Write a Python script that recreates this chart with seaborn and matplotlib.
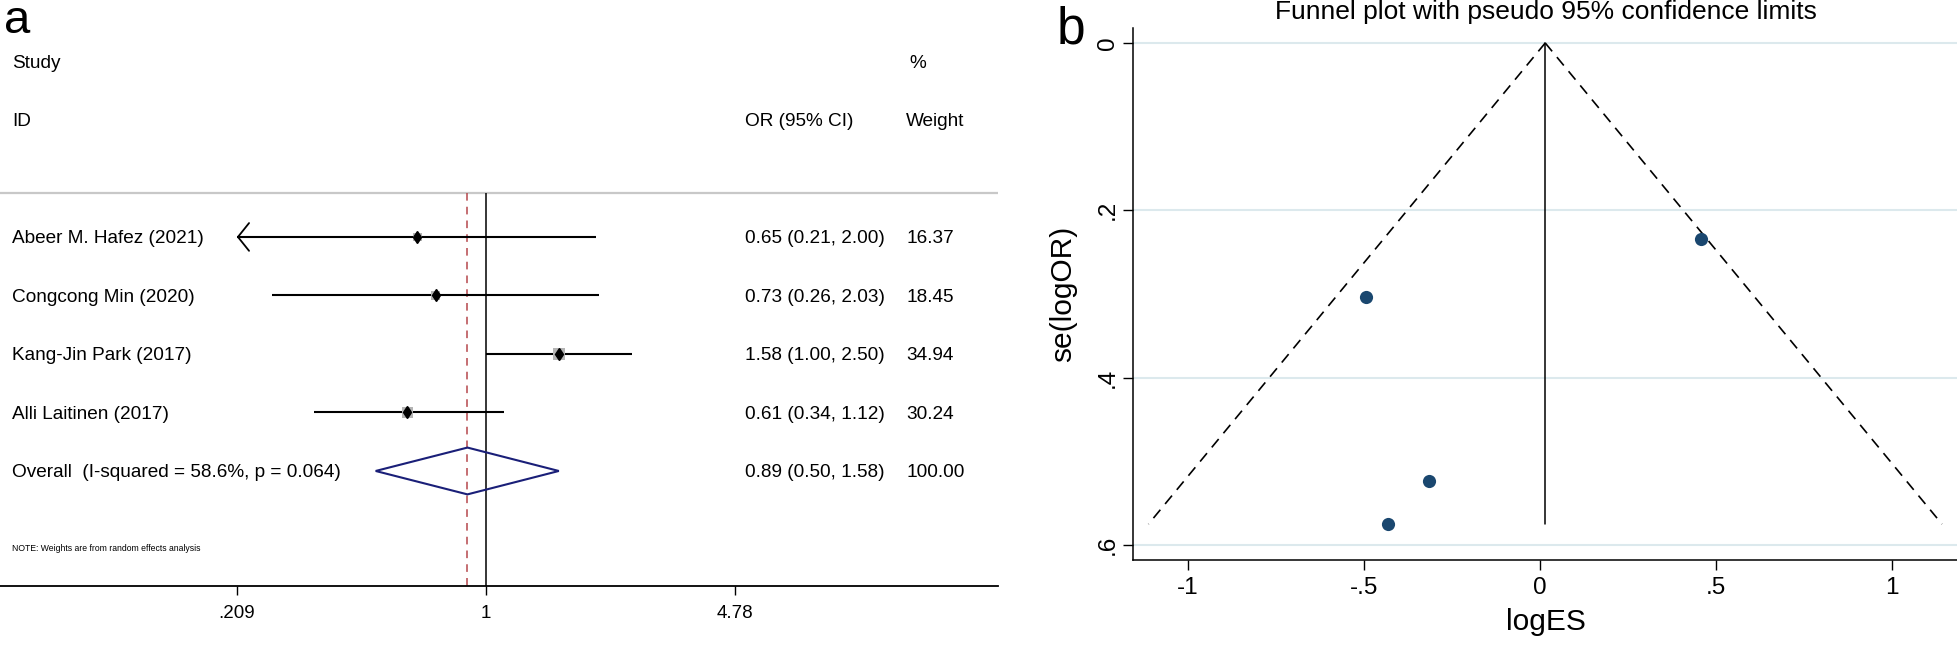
import numpy as np
import pandas as pd
import matplotlib
matplotlib.use("Agg")
import matplotlib.pyplot as plt
import matplotlib.transforms as mtransforms
from matplotlib.patches import ArrowStyle
import seaborn as sns

# ---- forest plot data (panel a) ----
studies = ["Abeer M. Hafez (2021)", "Congcong Min (2020)",
           "Kang-Jin Park (2017)", "Alli Laitinen (2017)"]
or_est = [0.65, 0.73, 1.58, 0.61]
ci_low = [0.21, 0.26, 1.00, 0.34]
ci_high = [2.00, 2.03, 2.50, 1.12]
weights = [16.37, 18.45, 34.94, 30.24]
clipped_left = [True, False, False, False]
overall = (0.89, 0.50, 1.58)
overall_label = "Overall  (I-squared = 58.6%, p = 0.064)"
forest_ticks = [0.209, 1, 4.78]
forest_ticklabels = [".209", "1", "4.78"]

# ---- funnel plot data (panel b) ----
log_es = [-0.431, -0.315, 0.457, -0.494]
se_log_or = [0.575, 0.523, 0.234, 0.304]
pooled_fixed = 0.015
funnel_xticks = [-1, -0.5, 0, 0.5, 1]
funnel_xticklabels = ["-1", "-.5", "0", ".5", "1"]
funnel_yticks = [0, 0.2, 0.4, 0.6]
funnel_yticklabels = ["0", ".2", ".4", ".6"]

sns.set_style("white")
plt.rcParams["font.family"] = ["Liberation Sans", "DejaVu Sans"]
plt.rcParams["text.color"] = "black"
plt.rcParams["axes.labelcolor"] = "black"
plt.rcParams["xtick.color"] = "black"
plt.rcParams["ytick.color"] = "black"

W, H = 1958, 646
fig = plt.figure(figsize=(W / 100, H / 100), dpi=100)

# ================= panel a: forest plot =================
ax = fig.add_axes([0, (H - 586) / H, 998 / W, 586 / H])
ax.set_xscale("log")
ax.set_xlim(np.exp(-486 / 159.2), np.exp(512 / 159.2))
ax.set_ylim(6.966, -3.05)
for s in ["top", "right", "left"]:
    ax.spines[s].set_visible(False)
ax.spines["bottom"].set_linewidth(1.3)
ax.spines["bottom"].set_color("black")
ax.set_xticks(forest_ticks)
ax.set_xticklabels(forest_ticklabels)
ax.minorticks_off()
ax.tick_params(axis="x", length=6.5, width=1, direction="out", pad=7,
               labelsize=13.5, bottom=True)
ax.set_yticks([])

rows = np.arange(1, len(studies) + 1)
trans = mtransforms.blended_transform_factory(ax.transAxes, ax.transData)
txt = dict(fontsize=13.7, va="center_baseline", transform=trans)

# header
ax.text(0.012, -2, "Study", **txt)
ax.text(0.911, -2, "%", **txt)
ax.text(0.012, -1, "ID", **txt)
ax.text(0.7465, -1, "OR (95% CI)", **txt)
ax.text(0.908, -1, "Weight", **txt)
ax.axhline(0.25, color="#c8c8c8", lw=1.6)

# reference lines
ax.vlines(1, 0.25, 6.966, color="black", lw=1.1)
ax.vlines(overall[0], 0.25, 6.966, color="#b5474b", lw=1.1,
          linestyles=(0, (5, 4)))

# CI lines
lo_draw = [forest_ticks[0] if c else l for c, l in zip(clipped_left, ci_low)]
ax.hlines(rows, lo_draw, ci_high, color="black", lw=1.5)
for r, c in zip(rows, clipped_left):
    if c:
        ax.annotate("", xy=(forest_ticks[0], r), xytext=(forest_ticks[0] * 1.4, r),
                    arrowprops=dict(arrowstyle=ArrowStyle("->", head_length=0.8,
                                                          head_width=1.0),
                                    mutation_scale=10, lw=1.3, color="black",
                                    shrinkA=0, shrinkB=0))

df = pd.DataFrame({"OR": or_est, "row": rows, "w": weights})
sns.scatterplot(data=df, x="OR", y="row", size="w",
                sizes=(2.3 * min(weights), 2.3 * max(weights)),
                marker="s", color="#b4b4b4", linewidth=0, legend=False, ax=ax, zorder=3)
ax.plot(or_est, rows, linestyle="none", marker="d", ms=6, color="black", zorder=4)
ax.set_xlabel("")
ax.set_ylabel("")

# overall diamond
o, olo, ohi = overall
ax.fill([olo, o, ohi, o, olo], [5, 4.6, 5, 5.4, 5], fill=False,
        edgecolor="#1a1f78", lw=1.5, zorder=4)

for r, name, e, l, h, w in zip(rows, studies, or_est, ci_low, ci_high, weights):
    ax.text(0.012, r, name, **txt)
    ax.text(0.7465, r, f"{e:.2f} ({l:.2f}, {h:.2f})", **txt)
    ax.text(0.908, r, f"{w:.2f}", **txt)
ax.text(0.012, 5, overall_label, **txt)
ax.text(0.7465, 5, f"{o:.2f} ({olo:.2f}, {ohi:.2f})", **txt)
ax.text(0.908, 5, f"{sum(weights):.2f}", **txt)
ax.text(0.012, 6.33, "NOTE: Weights are from random effects analysis",
        fontsize=6.2, va="center", transform=trans)

# ================= panel b: funnel plot =================
bx = fig.add_axes([1133 / W, (H - 560) / H, (W - 1133) / W, 532 / H])
bx.set_xlim(-1.156, 1.1875)
bx.set_ylim(0.6179, -0.0179)
bx.grid(axis="y", color="#dce9ed", lw=1.5)
bx.grid(axis="x", visible=False)
for s in ["top", "right"]:
    bx.spines[s].set_visible(False)
for s in ["left", "bottom"]:
    bx.spines[s].set_linewidth(1.1)
    bx.spines[s].set_color("black")

se_max = max(se_log_or)
se_line = np.array([0, se_max])
bx.plot(pooled_fixed - 1.96 * se_line, se_line, color="black", lw=1.2, ls=(0, (6.5, 4.5)))
bx.plot(pooled_fixed + 1.96 * se_line, se_line, color="black", lw=1.2, ls=(0, (6.5, 4.5)))
bx.plot([pooled_fixed, pooled_fixed], se_line, color="black", lw=1.1)

fdf = pd.DataFrame({"logES": log_es, "se": se_log_or})
sns.scatterplot(data=fdf, x="logES", y="se", color="#1a476f", s=90,
                linewidth=0, ax=bx, zorder=3)

bx.set_xticks(funnel_xticks)
bx.set_xticklabels(funnel_xticklabels)
bx.set_yticks(funnel_yticks)
bx.set_yticklabels(funnel_yticklabels, rotation=90, va="center")
bx.tick_params(axis="both", length=7, width=1, direction="out", labelsize=17.5,
               left=True, bottom=True)
bx.tick_params(axis="x", pad=5)
bx.tick_params(axis="y", pad=3)
bx.set_xlabel("logES", fontsize=21.5)
bx.set_ylabel("se(logOR)", fontsize=21.5)
bx.xaxis.set_label_coords(0.5, -0.09)
bx.yaxis.set_label_coords(-0.068, 0.5)
bx.set_title("Funnel plot with pseudo 95% confidence limits", fontsize=19, pad=6.5)

# panel letters
fig.text(4 / W, 1 - 33 / H, "a", fontsize=34, va="baseline")
fig.text(1057 / W, 1 - 43 / H, "b", fontsize=37, va="baseline")

fig.savefig("out.png", dpi=100)
